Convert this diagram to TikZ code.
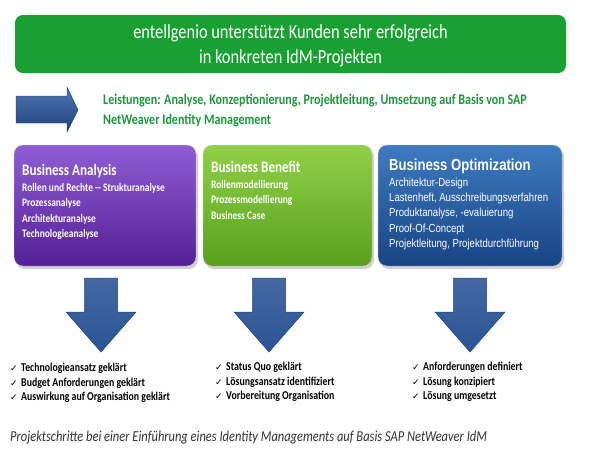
\documentclass[tikz,border=0pt]{standalone}
\usepackage{fontspec}
\setmainfont{Carlito}
\newfontfamily\calfnt[FakeStretch=0.82]{Carlito}
\newfontfamily\arifnt[FakeStretch=0.82]{Liberation Sans}
\newfontfamily\dvfnt{DejaVu Sans}
\definecolor{bannergreen}{RGB}{24,160,48}
\definecolor{leistgreen}{RGB}{30,150,60}
\definecolor{purtop}{RGB}{142,92,212}
\definecolor{purbot}{RGB}{84,32,150}
\definecolor{grtop}{RGB}{145,208,72}
\definecolor{grbot}{RGB}{88,160,30}
\definecolor{bltop}{RGB}{62,122,192}
\definecolor{blbot}{RGB}{24,68,132}
\definecolor{arrtop}{RGB}{75,118,178}
\definecolor{arrmid}{RGB}{42,84,150}
\definecolor{arrbot}{RGB}{32,66,122}
\definecolor{capgrey}{RGB}{50,50,50}
\newcommand{\chk}{{\dvfnt\fontsize{9}{9}\selectfont ✓}\hspace{3.5pt}}
\tikzset{
  banner/.style={fill=bannergreen, rounded corners=8pt, minimum width=551pt, minimum height=58pt, inner sep=0pt},
  card/.style={rounded corners=9pt, minimum width=182pt, minimum height=121pt, inner sep=0pt, draw=white!80!black, line width=0.4pt},
  cardtext/.style={anchor=north west, align=left, text=white, inner sep=0pt},
  arrowshape/.style={top color=arrtop, bottom color=arrbot, draw=arrbot!80!black, line width=0.4pt},
  downarrow/.style={top color=arrmid!88!white, bottom color=arrmid, draw=arrbot, line width=0.5pt},
  checklist/.style={anchor=north west, align=left, inner sep=0pt, font=\calfnt\bfseries\fontsize{12}{14.5}\selectfont}
}
\begin{document}
\begin{tikzpicture}[x=1pt,y=-1pt]
\useasboundingbox[fill=white] (0,0) rectangle (596,459);
% banner
\node[banner] (title) at (290.5,44) {};
\node[text=white, align=center, inner sep=0pt, font=\calfnt\fontsize{20}{25}\selectfont] (titletext) at (290.5,46) {entellgenio unterstützt Kunden sehr erfolgreich\\in konkreten IdM-Projekten};
% right arrow
\draw[arrowshape] (16,96) -- (67,96) -- (67,87) -- (78,110) -- (67,132) -- (67,123) -- (16,123) -- cycle;
\node[anchor=west, align=left, text=leistgreen, inner sep=0pt, font=\calfnt\bfseries\fontsize{14.7}{19.5}\selectfont] (leist) at (103,110.5) {Leistungen: Analyse, Konzeptionierung, Projektleitung, Umsetzung auf Basis von SAP\\NetWeaver Identity Management};
% shadows
\fill[black!18, rounded corners=9pt] (16,148) rectangle (198,269);
\fill[black!18, rounded corners=9pt] (205,148) rectangle (374,269);
\fill[black!18, rounded corners=9pt] (380,148) rectangle (564,269);
% cards
\node[card, top color=purtop, bottom color=purbot] (ba) at (105,205.5) {};
\node[card, top color=grtop, bottom color=grbot, minimum width=169pt] (bb) at (287.5,205.5) {};
\node[card, top color=bltop, bottom color=blbot, minimum width=184pt] (bo) at (470,205.5) {};
\node[cardtext, font=\calfnt\bfseries\fontsize{11.5}{15.6}\selectfont] (bat) at (22,164) {{\fontsize{16}{18.5}\selectfont Business Analysis}\\Rollen und Rechte -- Strukturanalyse\\Prozessanalyse\\Architekturanalyse\\Technologieanalyse};
\node[cardtext, font=\calfnt\bfseries\fontsize{11.5}{15.6}\selectfont] (bbt) at (211,161) {{\fontsize{16}{18.5}\selectfont Business Benefit}\\Rollenmodellierung\\Prozessmodellierung\\Business Case};
\node[cardtext, font=\arifnt\fontsize{11.7}{15.3}\selectfont] (bot) at (389,159) {{\bfseries\fontsize{16}{20.5}\selectfont Business Optimization}\\Architektur-Design\\Lastenheft, Ausschreibungsverfahren\\Produktanalyse, -evaluierung\\Proof-Of-Concept\\Projektleitung, Projektdurchführung};
% down arrows
\foreach \cx in {101,269,470}{
  \draw[downarrow] (\cx-16.5,278) -- (\cx+16.5,278) -- (\cx+16.5,312) -- (\cx+35,312) -- (\cx,352) -- (\cx-35,312) -- (\cx-16.5,312) -- cycle;
}
% checklists
\node[checklist] (c1) at (10,363) {\chk Technologieansatz geklärt\\\chk Budget Anforderungen geklärt\\\chk Auswirkung auf Organisation geklärt};
\node[checklist] (c2) at (215,362) {\chk Status Quo geklärt\\\chk Lösungsansatz identifiziert\\\chk Vorbereitung Organisation};
\node[checklist] (c3) at (412,362) {\chk Anforderungen definiert\\\chk Lösung konzipiert\\\chk Lösung umgesetzt};
% caption
\node[anchor=west, inner sep=0pt, text=capgrey, font=\calfnt\itshape\fontsize{15.2}{17}\selectfont] (cap) at (10,438) {Projektschritte bei einer Einführung eines Identity Managements auf Basis SAP NetWeaver IdM};
\end{tikzpicture}
\end{document}
